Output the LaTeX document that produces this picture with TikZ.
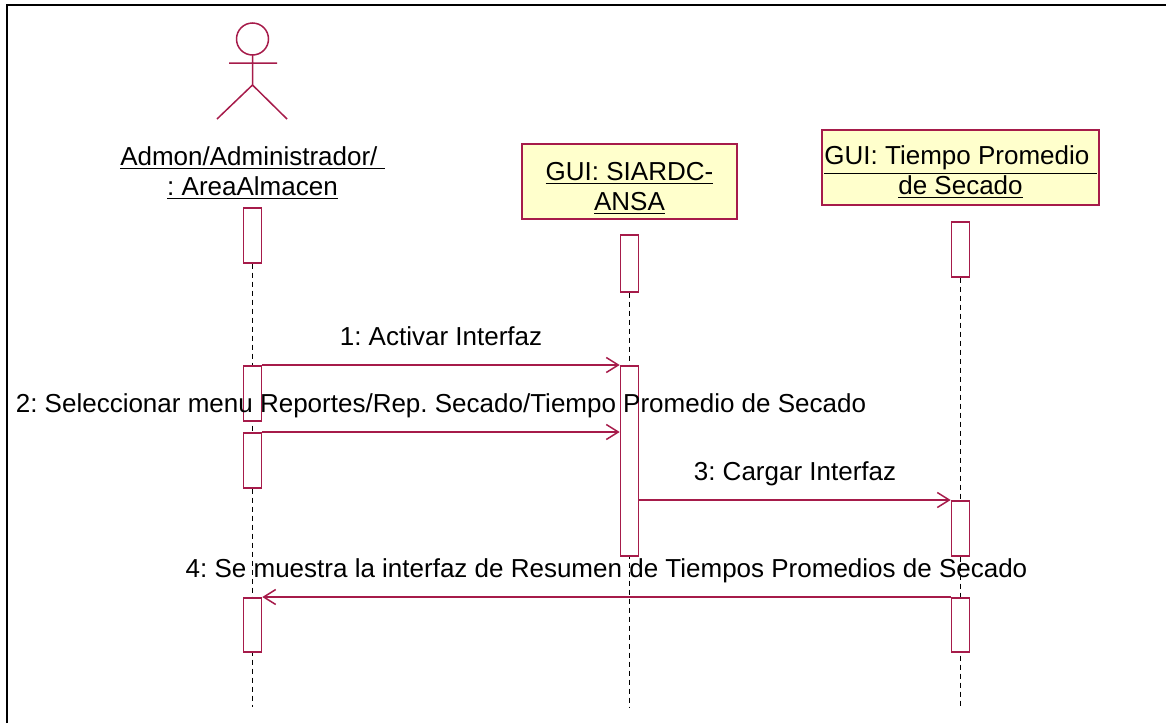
\documentclass[tikz,border=0pt]{standalone}
\usepackage{fontspec}
\setmainfont{Liberation Sans}
\frenchspacing
\definecolor{RoseRed}{RGB}{166,27,74}
\definecolor{NoteYellow}{RGB}{255,255,204}
\usetikzlibrary{positioning, arrows.meta, calc, backgrounds}
\tikzset{
  objbox/.style={draw=RoseRed, fill=NoteYellow, line width=1pt, inner sep=0pt},
  objlabel/.style={align=center, inner sep=0pt, font=\fontsize{13}{15}\selectfont},
  activation/.style={draw=RoseRed, fill=white, line width=0.8pt, minimum width=9pt, inner sep=0pt, anchor=north},
  lifeline/.style={dash pattern=on 2.5pt off 2pt, line width=0.6pt},
  msg/.style={RoseRed, line width=0.75pt, -{Straight Barb[length=6pt,width=7.5pt]}},
  msglabel/.style={text=black, inner sep=0pt, anchor=base, yshift=10pt, font=\fontsize{13}{15}\selectfont},
}
\begin{document}
\begin{tikzpicture}[x=0.5pt, y=-0.5pt]
  \useasboundingbox (0,0) rectangle (1166,723);
  \draw[line width=1pt] (7,723) -- (7,5) -- (1166,5);
  % actor
  \draw[RoseRed, line width=0.75pt] (252.5,39) circle[radius=8pt];
  \draw[RoseRed, line width=0.75pt] (252.5,55) -- (252.5,85) (229,63) -- (277,63)
    (217,119) -- (252.5,85) -- (287,119);
  \node[objlabel] (actor) at (252.5,173) {\underline{Admon/Administrador/\ }\\\underline{: AreaAlmacen}};
  % objects
  \node[objbox, minimum width=107.5pt, minimum height=37.5pt] (siardc) at (629.5,181.5) {};
  \node[objlabel, yshift=-3.5pt] (siardctext) at (siardc.center) {\underline{GUI: SIARDC-}\\\underline{ANSA}};
  \node[objbox, minimum width=138.5pt, minimum height=37.5pt] (tiempo) at (960.5,167.5) {};
  \node[objlabel, yshift=-2.5pt] (tiempotext) at (tiempo.center) {\underline{GUI: Tiempo Promedio\ }\\\underline{de Secado}};
  % activations
  \node[activation, minimum height=27.5pt] (a1) at (252.5,207) {};
  \node[activation, minimum height=27.5pt] (a2) at (252.5,365) {};
  \node[activation, minimum height=27.5pt] (a3) at (252.5,432) {};
  \node[activation, minimum height=27pt] (a4) at (252.5,597) {};
  \node[activation, minimum height=28.5pt] (b1) at (629.5,234) {};
  \node[activation, minimum height=95pt] (b2) at (629.5,365) {};
  \node[activation, minimum height=27.5pt] (c1) at (960.5,221) {};
  \node[activation, minimum height=27.5pt] (c2) at (960.5,500) {};
  \node[activation, minimum height=27pt] (c3) at (960.5,597) {};
  % lifelines
  \coordinate (aend) at (252.5,707);
  \coordinate (bend) at (629.5,707);
  \coordinate (cend) at (960.5,707);
  \begin{scope}[on background layer]
    \draw[lifeline] (a1.south) -- (aend);
    \draw[lifeline] (b1.south) -- (bend);
    \draw[lifeline] (c1.south) -- (cend);
  \end{scope}
  % messages
  \draw[msg] (a2.north east) -- node[msglabel] {1: Activar Interfaz} (b2.north west);
  \draw[msg] (a3.north east) -- node[msglabel] {2: Seleccionar menu Reportes/Rep. Secado/Tiempo Promedio de Secado} (a3.north east -| b2.west);
  \draw[msg] (c2.north west -| b2.east) -- node[msglabel] {3: Cargar Interfaz} (c2.north west);
  \draw[msg] (c3.north west) -- node[msglabel] {4: Se muestra la interfaz de Resumen de Tiempos Promedios de Secado} (a4.north east);
\end{tikzpicture}
\end{document}
